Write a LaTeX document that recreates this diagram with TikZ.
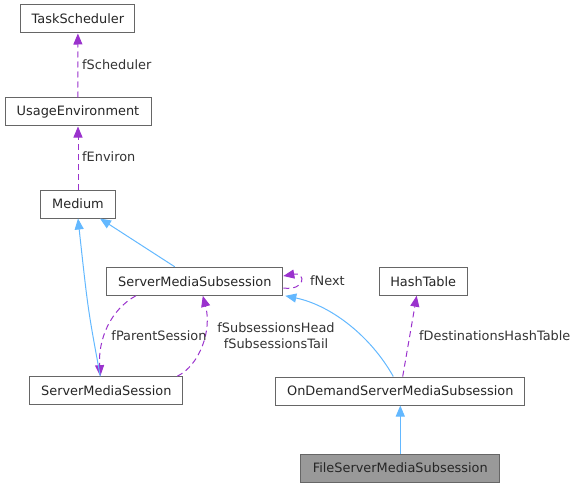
\documentclass[tikz,border=0pt]{standalone}
\usepackage{fontspec}
\setmainfont{DejaVu Sans}
\usetikzlibrary{arrows.meta}
\definecolor{boxline}{HTML}{666666}
\definecolor{boxfill}{HTML}{999999}
\definecolor{refline}{HTML}{9A32CD}
\definecolor{baseline}{HTML}{63B8FF}
\begin{document}
\begin{tikzpicture}[x=1pt,y=-1pt,
    font=\fontsize{12.9}{15.5}\selectfont,
    cls/.style={draw=boxline,line width=1pt,fill=white,minimum height=28pt,inner sep=0pt,text=black!85},
    focus/.style={cls,fill=boxfill},
    member/.style={draw=refline,line width=1pt,dash pattern=on 6pt off 4pt,
      -{Triangle[length=11pt,width=9pt,color=refline]}},
    derived/.style={draw=baseline,line width=1pt,-{Triangle[length=11pt,width=9pt]}},
    lbl/.style={text=black!80,inner sep=0pt}]
  \useasboundingbox (0,0) rectangle (579,487);
  \draw
    (77.9,19) node[cls,minimum width=114pt] (task){TaskScheduler}
    (78,112) node[cls,minimum width=146pt] (usage){UsageEnvironment}
    (78,204) node[cls,minimum width=75pt] (medium){Medium}
    (194.8,281.3) node[cls,minimum width=176pt] (smss){ServerMediaSubsession}
    (106.3,390.7) node[cls,minimum width=153pt] (sms){ServerMediaSession}
    (423.2,281.2) node[cls,minimum width=88pt] (hash){HashTable}
    (400.3,391) node[cls,minimum width=249pt] (ondemand){OnDemandServerMediaSubsession}
    (400.3,468) node[focus,minimum width=199pt] (file){FileServerMediaSubsession};
  % members
  \begin{scope}[member]
    \draw (usage.north) -- (task.south);
    \draw (medium.north) -- (usage.south);
    \draw ([yshift=-6.7pt]smss.east) .. controls (306,291) and (306,272) .. ([yshift=5.3pt]smss.east);
    \draw ([xshift=-59pt]smss.south) .. controls (110,310) and (98,340) .. ([xshift=-6pt]sms.north);
    \draw ([xshift=71pt]sms.north) .. controls (200,365) and (212,330) .. ([xshift=8pt]smss.south);
    \draw ([xshift=2.4pt]ondemand.north) -- ([xshift=-6.5pt]hash.south);
  \end{scope}
  % bases
  \begin{scope}[derived]
    \draw ([xshift=-20pt]smss.north) -- ([xshift=22pt]medium.south);
    \draw ([xshift=-6pt]sms.north) .. controls (88,310) .. (medium.south);
    \draw ([xshift=-7pt]ondemand.north) .. controls (370,335) and (330,305) .. ([xshift=2pt]smss.south east);
    \draw (file.north) -- (ondemand.south);
  \end{scope}
  \node[lbl,anchor=west] (lsched) at (82,65) {fScheduler};
  \node[lbl,anchor=west] (lenv) at (82,157) {fEnviron};
  \node[lbl,anchor=west] (lnext) at (310,281) {fNext};
  \node[lbl] (lparent) at (159,336) {fParentSession};
  \node[lbl,align=center] (lsub) at (276,335.5) {fSubsessionsHead\\fSubsessionsTail};
  \node[lbl,anchor=west] (lhash) at (419,336) {fDestinationsHashTable};
\end{tikzpicture}
\end{document}
